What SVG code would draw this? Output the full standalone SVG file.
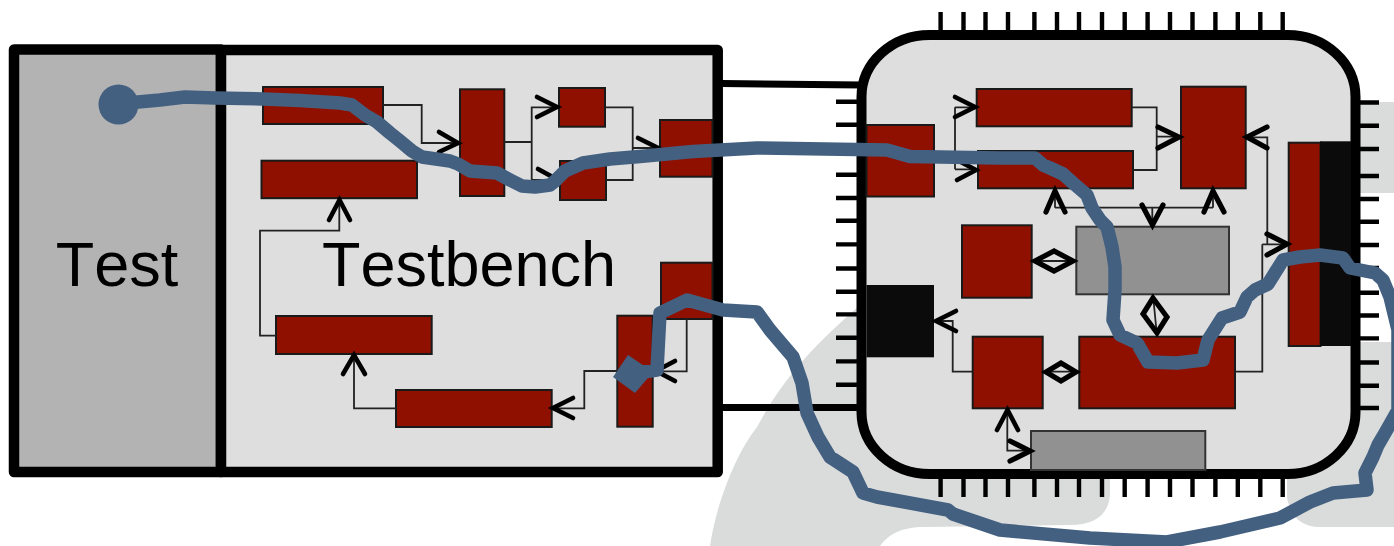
<svg xmlns="http://www.w3.org/2000/svg" width="1394" height="546" viewBox="0 0 1394 546">
<style>
.r{fill:#901000;stroke:#1a1a1a;stroke-width:2}
.g{fill:#919191;stroke:#333;stroke-width:2}
.k{fill:#0b0b0b}
.w{fill:none;stroke:#222;stroke-width:1.8}
.a{fill:none;stroke:#000;stroke-width:4.6;stroke-linecap:round;stroke-linejoin:miter}
.c{stroke-width:5.2}
.p{stroke:#000;stroke-width:4.4;fill:none}
.t{font-family:"Liberation Sans",Arial,sans-serif;font-size:63px;font-kerning:none;fill:#000}
.b{fill:none;stroke:#436080;stroke-width:13.5;stroke-linejoin:round;stroke-linecap:round}
</style>
<rect width="1394" height="546" fill="#fff"/>
<g id="watermark" fill="#d9dcdb">
<path d="M710 546C716 505 735 455 757 427C785 375 815 345 860 305L1000 305L1110 470L1110 495C1108 515 1095 525 1070 525L925 527C900 527 888 535 880 546Z"/>
<path d="M1350 102H1394V193H1350Z"/>
<path d="M1350 342H1394V527H1320C1300 527 1290 515 1287 497L1287 470Z"/>
</g>
<g id="test"><rect x="14" y="49.5" width="207" height="422.5" fill="#b3b3b3" stroke="#000" stroke-width="10.5" stroke-linejoin="round"/><text class="t" x="117" y="286" text-anchor="middle">Test</text></g>
<g id="testbench"><rect x="221" y="50" width="496.7" height="422" fill="#dedede" stroke="#000" stroke-width="10.5" stroke-linejoin="round"/><text class="t" x="469" y="286" text-anchor="middle">Testbench</text></g>
<g id="links"><path d="M722 83.5L862 85M722 407.5H860" stroke="#000" stroke-width="7" fill="none"/></g>
<g id="pins" class="p">
<path d="M940.6 12V31M963.5 12V31M985.5 12V31M1008 12V31M1034.4 12V31M1057 12V31M1079 12V31M1102 12V31M1124.7 12V31M1147.6 12V31M1170 12V31M1192.5 12V31M1215.4 12V31M1237.8 12V31M1260.3 12V31M1282.7 12V31"/>
<path d="M940.6 478V497M963.5 478V497M985.5 478V497M1008 478V497M1034.4 478V497M1057 478V497M1079 478V497M1102 478V497M1124.7 478V497M1147.6 478V497M1170 478V497M1192.5 478V497M1215.4 478V497M1237.8 478V497M1260.3 478V497M1282.7 478V497"/>
<path d="M836 101.7H858M836 124.7H858M836 149H858M836 174.8H858M836 198H858M836 220.8H858M836 244.4H858M836 268.5H858M836 291.8H858M836 314.4H858M836 337.7H858M836 361.4H858M836 384.8H858"/>
<path d="M1359 102.5H1379M1359 125.7H1379M1359 149H1379M1359 176H1379M1359 199H1379M1359 221.7H1379M1359 245H1379M1359 268H1379M1359 292.8H1379M1359 315.5H1379M1359 338.4H1379M1359 362.5H1379M1359 385.8H1379M1359 408H1379"/>
</g>
<g id="chip"><rect x="861.5" y="35" width="494" height="439" rx="68" ry="62" fill="#dedede" stroke="#000" stroke-width="10"/></g>
<g id="tb-blocks">
<rect id="n1" class="r" x="263" y="87" width="120" height="37"/>
<rect id="n2" class="r" x="261.5" y="160.7" width="155.5" height="37.5"/>
<rect id="n3" class="r" x="460" y="89.3" width="44.3" height="106.7"/>
<rect id="n4" class="r" x="559" y="88" width="46" height="38.7"/>
<rect id="n5" class="r" x="560" y="161" width="46" height="39"/>
<rect id="n6" class="r" x="660" y="120" width="52.5" height="56.7"/>
<rect id="n7" class="r" x="661" y="262.7" width="51.5" height="56.3"/>
<rect id="n8" class="r" x="276" y="316" width="155.7" height="38"/>
<rect id="n9" class="r" x="396" y="390" width="155.7" height="37"/>
<rect id="n10" class="r" x="617.3" y="315.7" width="35.4" height="111"/>
</g>
<g id="chip-blocks">
<rect id="c1" class="r" x="976.7" y="89" width="155" height="37.3"/>
<rect id="c2" class="r" x="978" y="151" width="155" height="37.3"/>
<rect id="c3" class="r" x="1181" y="86.7" width="64.7" height="101.6"/>
<rect id="c4" class="r" x="962" y="225.3" width="69.7" height="72.4"/>
<rect id="g1" class="g" x="1076.3" y="226.7" width="152.7" height="67.6"/>
<rect id="c5" class="r" x="1288.7" y="142.7" width="31.8" height="203.3" stroke="none"/>
<rect id="kr" class="k" x="1320" y="141.3" width="31" height="204.7"/>
<rect id="c6" class="r" x="866.5" y="125" width="67.5" height="71.5"/>
<rect id="kl" class="k" x="866.5" y="285" width="67.5" height="72.3"/>
<rect id="c7" class="r" x="972.7" y="336.7" width="70" height="71.6"/>
<rect id="c8" class="r" x="1079.3" y="336.7" width="155.7" height="71.6"/>
<rect id="g2" class="g" x="1031" y="431" width="174.3" height="39"/>
</g>
<g id="connectors">
<path class="w" d="M383 105H421.7V143H458M504 142H531.7V107.3H557M531.7 142V180H558M605 107.3H632.7V180H606M632.7 148H658M339.3 199V230.7H260V335.7H276M396 408.3H354V355M617 371H584.3V408.3H553M686.7 319V371.3H654"/>
<path class="w" d="M934 157H955M955 107.3V169.3M955 107.3H975M955 169.3H976M1132 107.3H1156.7V170H1133M1156.7 136.7H1179M1246 137.3H1267.3V244M1262.3 244.3H1287M1235 371.7H1262.3V244.3M1055 207.7H1213M1055 189V207.7M1213 189V207.7M1152.3 207.7V225M1032 261H1076M1153 295L1157 336M1043 371.7H1079M972.7 371.7H952.7V321H935M1007.3 409V450.7H1030"/>
<g class="a">
<path d="M439 132L458 143L439 152"/>
<path d="M537 97L557 107L537 117"/>
<path d="M538 169L558 180L538 190"/>
<path d="M638 138L658 148L650 156"/>
<path d="M329 220L339.5 200L350 220"/>
<path d="M343 374L354 355L365 374"/>
<path d="M573 398L553 408L573 418"/>
<path d="M675 361L656 371L675 381"/>
<path d="M955 97L975 107L955 117"/>
<path d="M957 160L976 170L957 180"/>
<path d="M997 430L1007.5 410L1018 430"/>
<path d="M956 311L936 321L956 331"/>
</g>
<g class="a c">
<path d="M1158 127L1179 137L1158 148"/>
<path d="M1267 127L1247 137L1267 148"/>
<path d="M1267 234L1287 244L1267 255"/>
<path d="M1046 212L1055 191L1065 212"/>
<path d="M1204 212L1213 191L1224 212"/>
<path d="M1142 205L1152.5 225L1163 205"/>
<path d="M1054 251L1035 261L1054 271L1073 261Z"/>
<path d="M1153 298L1143 314L1157 333L1167 317Z"/>
<path d="M1061 363L1046 372L1061 381L1076 372Z"/>
<path d="M1010 441L1030 451L1010 461"/>
</g>
</g>
<g id="trace">
<circle cx="118.5" cy="104.5" r="20" fill="#436080"/>
<path class="b" d="M118 105L138 102L160 100L185 97L215 98L263 99L300 100.500L340 103L352 105L365 115L377 122L390 133L400 141L412 151L422 157L450 161L458 164L470 171L497 173L510 180L522 186L535 187L550 185L555 181L565 171L583 163L610 159L640 156.500L693 151.500L757 148L887 150L910 156.500L1000 158L1035 158L1043 165L1050 168L1063 174L1073 183L1087 195L1092 208L1100 220L1107 227L1112 247L1115 267L1115 290L1113 320L1120 335L1137 343L1148 362L1177 363L1203 360L1208 340L1222 318L1240 312L1247 297L1255 290L1268 284L1278 268L1283 260L1300 257L1320 255L1343 258L1350 268L1375 273L1383 280L1390 297L1398 330L1398 410L1385 433L1378 445L1373 457L1365 473L1367 490L1333 493L1310 502L1280 518L1220 532L1167 542L1090 538L1000 530L953 514L948 510L877 497L863 493L853 472L830 457L818 437L807 413L802 383L793 357L770 330L757 312L723 310L687 300L660 313L657 370L643 372"/>
<path d="M628 355L653 372L635 393L613 377Z" fill="#436080"/>
</g>
</svg>
